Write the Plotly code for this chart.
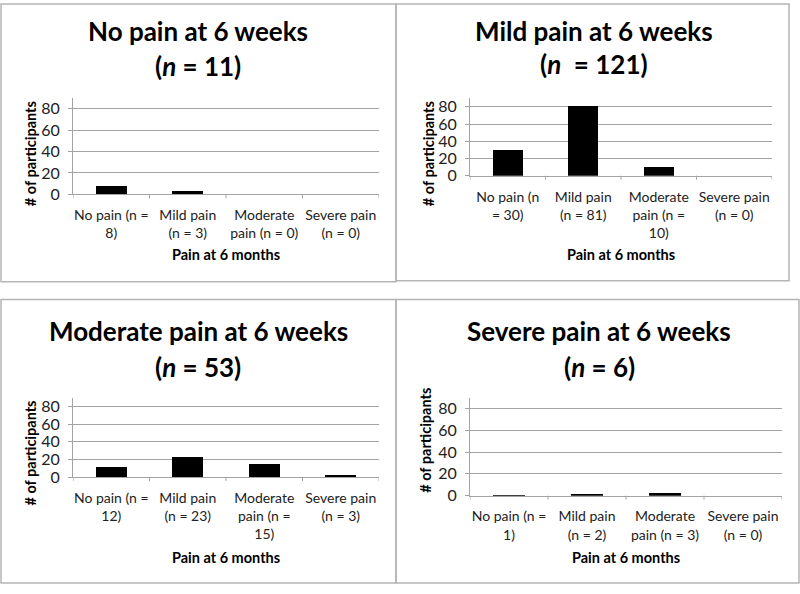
import plotly.graph_objects as go

W, H = 800, 594

# ---------------- data ----------------
categories = ["No pain", "Mild pain", "Moderate pain", "Severe pain"]

panel_titles = ["No pain at 6 weeks", "Mild pain at 6 weeks",
                "Moderate pain at 6 weeks", "Severe pain at 6 weeks"]
panel_n = ["(<i>n</i> = 11)", "(<i>n</i> \u00a0= 121)", "(<i>n</i> = 53)", "(<i>n</i> = 6)"]

values_no_pain = [8, 3, 0, 0]
values_mild_pain = [30, 81, 10, 0]
values_moderate_pain = [12, 23, 15, 3]
values_severe_pain = [1, 2, 3, 0]

ticklabels_no_pain = ["No pain (n =<br>8)", "Mild pain<br>(n = 3)",
                      "Moderate<br>pain (n = 0)", "Severe pain<br>(n = 0)"]
ticklabels_mild_pain = ["No pain (n<br>= 30)", "Mild pain<br>(n = 81)",
                        "Moderate<br>pain (n =<br>10)", "Severe pain<br>(n = 0)"]
ticklabels_moderate_pain = ["No pain (n =<br>12)", "Mild pain<br>(n = 23)",
                            "Moderate<br>pain (n =<br>15)", "Severe pain<br>(n = 3)"]
ticklabels_severe_pain = ["No pain (n =<br>1)", "Mild pain<br>(n = 2)",
                          "Moderate<br>pain (n = 3)", "Severe pain<br>(n = 0)"]

y_ticks = [0, 20, 40, 60, 80]
y_title = "# of participants"
x_title = "Pain at 6 months"

all_values = [values_no_pain, values_mild_pain, values_moderate_pain, values_severe_pain]
all_ticklabels = [ticklabels_no_pain, ticklabels_mild_pain,
                  ticklabels_moderate_pain, ticklabels_severe_pain]

# ---------------- layout (pixels) ----------------
plot_px = [(73, 379, 98, 196), (470, 772, 98, 177),
           (73, 379, 403, 484), (470, 782, 403, 503)]
box_px = [(1, 396, 2, 285), (396, 789, 2, 284), (1, 396, 303, 592), (396, 799, 303, 592)]
title_px = [(198, 30, 65), (594, 30, 63), (198, 335, 372), (599, 335, 372)]
ytitle_px = [(30, 155), (428, 155), (30, 460), (426, 447)]
xtitle_px = [(226, 257), (621, 257), (226, 566), (626, 566)]

FONT = "Lato, 'Open Sans', sans-serif"
GRID = "#a3a3a3"

def px_x(x):
    return x / W

def px_y(y):
    return 1 - y / H

fig = go.Figure()
shapes = []
annotations = []

for i in range(4):
    sfx = "" if i == 0 else str(i + 1)
    xa, ya = "x" + sfx, "y" + sfx
    fig.add_trace(go.Bar(
        x=list(range(len(categories))), y=all_values[i],
        xaxis=xa, yaxis=ya, width=0.4,
        marker=dict(color="black", line=dict(width=0)),
        hovertext=categories, showlegend=False,
    ))
    x0, x1, yt, yb = plot_px[i]
    fig.layout["xaxis" + sfx] = dict(
        domain=[px_x(x0), px_x(x1)], anchor=ya, range=[-0.5, 3.5],
        tickmode="array", tickvals=list(range(len(categories))),
        ticktext=all_ticklabels[i], showgrid=False, zeroline=False,
        showline=True, linecolor=GRID, linewidth=1,
        ticks="", ticklabelstandoff=8,
        tickfont=dict(family=FONT, size=14, color="#222"),
        fixedrange=True,
    )
    fig.layout["yaxis" + sfx] = dict(
        domain=[px_y(yb), px_y(yt)], anchor=xa, range=[0, 90],
        tickmode="array", tickvals=y_ticks,
        showgrid=True, gridcolor=GRID, gridwidth=1, zeroline=False,
        showline=True, linecolor=GRID, linewidth=1,
        ticks="outside", ticklen=4, tickcolor=GRID, ticklabelstandoff=5,
        tickfont=dict(family=FONT, size=16, color="#222"),
        fixedrange=True,
    )
    for b in [-0.5, 0.5, 1.5, 2.5, 3.5]:
        shapes.append(dict(type="line", xref=xa, yref="paper",
                           x0=b, x1=b, y0=px_y(yb), y1=px_y(yb + 4),
                           line=dict(color=GRID, width=1)))
    bx0, bx1, by0, by1 = box_px[i]
    shapes.append(dict(type="rect", xref="paper", yref="paper",
                       x0=px_x(bx0), x1=px_x(bx1), y0=px_y(by1), y1=px_y(by0),
                       line=dict(color="#b5b5b5", width=1.5), layer="below"))
    tx, ty1, ty2 = title_px[i]
    annotations.append(dict(text="<b>" + panel_titles[i] + "</b>", x=px_x(tx), y=px_y(ty1),
                            xref="paper", yref="paper", showarrow=False,
                            xanchor="center", yanchor="middle",
                            font=dict(family=FONT, size=26, color="black")))
    annotations.append(dict(text="<b>" + panel_n[i] + "</b>", x=px_x(tx), y=px_y(ty2),
                            xref="paper", yref="paper", showarrow=False,
                            xanchor="center", yanchor="middle",
                            font=dict(family=FONT, size=26, color="black")))
    yx, yy = ytitle_px[i]
    annotations.append(dict(text="<b>" + y_title + "</b>", x=px_x(yx), y=px_y(yy),
                            xref="paper", yref="paper", showarrow=False, textangle=-90,
                            xanchor="center", yanchor="middle",
                            font=dict(family=FONT, size=14.5, color="black")))
    xx, xy = xtitle_px[i]
    annotations.append(dict(text="<b>" + x_title + "</b>", x=px_x(xx), y=px_y(xy),
                            xref="paper", yref="paper", showarrow=False,
                            xanchor="center", yanchor="middle",
                            font=dict(family=FONT, size=14.5, color="black")))

fig.update_layout(
    width=W, height=H, margin=dict(l=0, r=0, t=0, b=0),
    paper_bgcolor="white", plot_bgcolor="white",
    shapes=shapes, annotations=annotations, bargap=0,
)

fig.write_html("out.html", config={"displayModeBar": False},
               post_script="document.body.style.margin='0';document.body.style.padding='0';")
